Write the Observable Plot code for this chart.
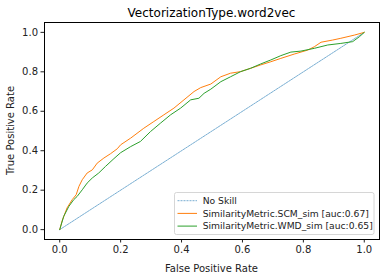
<!DOCTYPE html>
<html><head><meta charset="utf-8">
<script src="https://cdn.jsdelivr.net/npm/d3@7"></script>
<script src="https://cdn.jsdelivr.net/npm/@observablehq/plot@0.6"></script>
<style>body{margin:0;background:#fff;} svg{display:block;}</style>
</head><body><div id="chart"></div>
<script>
const title = "VectorizationType.word2vec";
const xLabel = "False Positive Rate";
const yLabel = "True Positive Rate";
const ticks = [0, 0.2, 0.4, 0.6, 0.8, 1.0];
const seriesNames = ["No Skill", "SimilarityMetric.SCM_sim [auc:0.67]", "SimilarityMetric.WMD_sim [auc:0.65]"];
const noSkillX = [0, 1];
const noSkillY = [0, 1];
const scmX = [0, 0.008, 0.024, 0.041, 0.054, 0.063, 0.074, 0.09, 0.107, 0.123, 0.145, 0.167, 0.189, 0.2, 0.233, 0.276, 0.309, 0.342, 0.375, 0.408, 0.441, 0.463, 0.496, 0.529, 0.561, 0.594, 0.627, 0.66, 0.693, 0.726, 0.77, 0.814, 0.836, 0.858, 0.896, 0.923, 0.967, 1];
const scmY = [0, 0.045, 0.11, 0.152, 0.177, 0.219, 0.253, 0.287, 0.303, 0.337, 0.363, 0.385, 0.41, 0.43, 0.464, 0.514, 0.548, 0.582, 0.616, 0.658, 0.7, 0.72, 0.738, 0.775, 0.793, 0.801, 0.818, 0.835, 0.851, 0.868, 0.89, 0.91, 0.927, 0.95, 0.961, 0.97, 0.986, 1];
const wmdX = [0, 0.013, 0.030, 0.046, 0.057, 0.074, 0.09, 0.107, 0.128, 0.15, 0.178, 0.2, 0.233, 0.265, 0.298, 0.331, 0.364, 0.397, 0.43, 0.457, 0.474, 0.496, 0.529, 0.561, 0.594, 0.627, 0.66, 0.693, 0.726, 0.759, 0.792, 0.836, 0.88, 0.923, 0.962, 0.984, 1];
const wmdY = [0, 0.067, 0.118, 0.152, 0.168, 0.202, 0.236, 0.262, 0.287, 0.32, 0.36, 0.39, 0.421, 0.447, 0.497, 0.54, 0.582, 0.616, 0.658, 0.666, 0.691, 0.712, 0.75, 0.775, 0.801, 0.818, 0.84, 0.86, 0.882, 0.9, 0.905, 0.919, 0.936, 0.944, 0.953, 0.978, 1];
const colors = ["#1f77b4", "#ff7f0e", "#2ca02c"];

const toPts = (xs, ys) => xs.map((x, i) => ({x, y: ys[i]}));
const noSkill = toPts(noSkillX, noSkillY);
const scm = toPts(scmX, scmY);
const wmd = toPts(wmdX, wmdY);

const W = 386, H = 278;
const svg = Plot.plot({
  width: W, height: H,
  marginLeft: 44, marginRight: 7, marginTop: 22, marginBottom: 39,
  style: {fontFamily: "DejaVu Sans, sans-serif", fontSize: "10px", background: "#fff", color: "#222"},
  x: {domain: [-0.05, 1.05]},
  y: {domain: [-0.05, 1.05]},
  marks: [
    Plot.line(noSkill, {x: "x", y: "y", stroke: colors[0], strokeWidth: 0.6, strokeDasharray: "2,1"}),
    Plot.line(scm, {x: "x", y: "y", stroke: colors[1], strokeWidth: 1}),
    Plot.line(wmd, {x: "x", y: "y", stroke: colors[2], strokeWidth: 1}),
    Plot.axisX({ticks, tickSize: 3.5, tickPadding: 3, tickFormat: d3.format(".1f"), label: null, fontSize: 10}),
    Plot.axisY({ticks, tickSize: 3.5, tickPadding: 3, tickFormat: d3.format(".1f"), label: null, fontSize: 10}),
    Plot.frame({stroke: "#000", strokeWidth: 1})
  ]
});
const s = d3.select(svg);
const cx = (44 + 379) / 2;
s.append("text").attr("x", cx).attr("y", 17).attr("text-anchor", "middle")
  .attr("font-size", 12).attr("fill", "#000").text(title);
s.append("text").attr("x", cx).attr("y", 272).attr("text-anchor", "middle")
  .attr("font-size", 10).attr("fill", "#222").text(xLabel);
s.append("text").attr("transform", `translate(14,${(22+239)/2}) rotate(-90)`).attr("text-anchor", "middle")
  .attr("font-size", 10).attr("fill", "#222").text(yLabel);
// legend
const lg = s.append("g");
lg.append("rect").attr("x", 174.5).attr("y", 192.5).attr("width", 199.5).attr("height", 42).attr("rx", 2)
  .attr("fill", "#fff").attr("fill-opacity", 0.8).attr("stroke", "#ccc").attr("stroke-width", 0.8);
const styles = [{w: 0.6, d: "2,1"}, {w: 1, d: null}, {w: 1, d: null}];
seriesNames.forEach((name, i) => {
  const yy = 200.7 + i * 12.7;
  lg.append("line").attr("x1", 177.5).attr("x2", 197).attr("y1", yy).attr("y2", yy)
    .attr("stroke", colors[i]).attr("stroke-width", styles[i].w).attr("stroke-dasharray", styles[i].d);
  lg.append("text").attr("x", 202.7).attr("y", yy).attr("dy", "0.35em").attr("font-size", 9.2)
    .attr("text-anchor", "start").attr("fill", "#222").text(name);
});
document.getElementById("chart").appendChild(svg);
</script></body></html>
